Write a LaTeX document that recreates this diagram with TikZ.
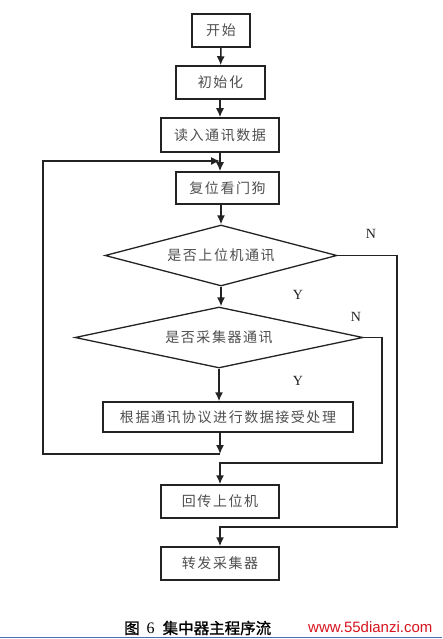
\documentclass[tikz,border=0pt]{standalone}
\usepackage{fontspec}
\setmainfont{Liberation Serif}
\newfontfamily\cjk[LetterSpace=11]{Noto Sans CJK SC}
\newfontfamily\cjkcap[FakeBold=1.2]{Noto Sans CJK SC}
\newfontfamily\urlfont{Liberation Sans}
\usetikzlibrary{arrows.meta,shapes.geometric}
\definecolor{ink}{RGB}{35,35,35}
\definecolor{urlred}{RGB}{215,20,30}
\definecolor{rulblue}{RGB}{70,110,180}
\tikzset{
  box/.style={draw=ink, line width=1.5pt, rectangle, inner sep=0pt, font=\cjk\fontsize{14}{16}\selectfont, text=ink!80},
  dia/.style={draw=ink, line width=1.3pt, diamond, aspect=4, inner sep=0pt, font=\cjk\fontsize{14}{16}\selectfont, text=ink!80},
  arr/.style={draw=ink, line width=1.5pt, -{Latex[length=9pt,width=8pt]}},
  wire/.style={draw=ink, line width=1.5pt},
  lab/.style={font=\fontsize{14}{16}\selectfont, text=ink}
}
\begin{document}
\begin{tikzpicture}[x=1pt,y=-1pt]
\useasboundingbox (0,0) rectangle (442,639);
\fill[white] (0,0) rectangle (442,639);
% boxes
\node[box, minimum width=58pt, minimum height=33pt] (start) at (221,30.5) {开始};
\node[box, minimum width=89pt, minimum height=33pt] (init) at (220.5,82.5) {初始化};
\node[box, minimum width=118pt, minimum height=34pt] (read) at (220,135) {读入通讯数据};
\node[box, minimum width=103pt, minimum height=32pt] (reset) at (227.5,188) {复位看门狗};
\node[dia, minimum width=232pt, minimum height=61pt] (d1) at (221,255.5) {是否上位机通讯};
\node[dia, minimum width=288pt, minimum height=61pt] (d2) at (219,337.5) {是否采集器通讯};
\node[box, minimum width=250pt, minimum height=30pt] (proc) at (228,417) {根据通讯协议进行数据接受处理};
\node[box, minimum width=118pt, minimum height=33pt] (back) at (220,501.5) {回传上位机};
\node[box, minimum width=118pt, minimum height=33pt] (send) at (220,563.5) {转发采集器};
% coordinates
\coordinate (j1) at (220,161);
\coordinate (j2) at (220,454);
\coordinate (l1) at (43,454);
\coordinate (l2) at (43,161);
\coordinate (r1) at (397,527);
\coordinate (k1) at (220,527);
\coordinate (r2) at (382,463);
\coordinate (k2) at (220,463);
% connectors
\draw[arr] (start) -- (init);
\draw[arr] (init.south) -- (init.south -| read.north) -- (read.north);
\draw[arr] (read.south) -- (read.south |- reset.north);
\draw[arr] (reset.south -| d1.north) -- (d1.north);
\draw[arr] (d1.south) -- (d1.south |- d2.north);
\draw[arr] (d2.south) -- (d2.south |- proc.north);
\draw[arr] (proc.south -| j2) -- (j2);
\draw[arr] (j2) -- (l1) -- (l2) -- (j1);
\draw[arr] (d1.east) -| (r1) -- (k1) -- (send.north);
\draw[arr] (d2.east) -| (r2) -- (k2) -- (back.north);
% labels
\node[lab] (n1) at (371,234) {N};
\node[lab] (y1) at (298,295) {Y};
\node[lab] (n2) at (356,317) {N};
\node[lab] (y2) at (298,381) {Y};
% caption
\node[anchor=west, inner sep=0pt] (cap) at (124,628) {\cjkcap\fontsize{15.5}{17}\selectfont 图\hspace{7pt}{\rmfamily\fontsize{16}{17}\selectfont 6}\hspace{8pt}集中器主程序流};
\node[anchor=west, inner sep=0pt, text=urlred] (url) at (308,627) {\urlfont\fontsize{15}{17}\selectfont www.55dianzi.com};
\draw[rulblue, line width=1.5pt] (0,637.5) -- (442,637.5);
\end{tikzpicture}
\end{document}
